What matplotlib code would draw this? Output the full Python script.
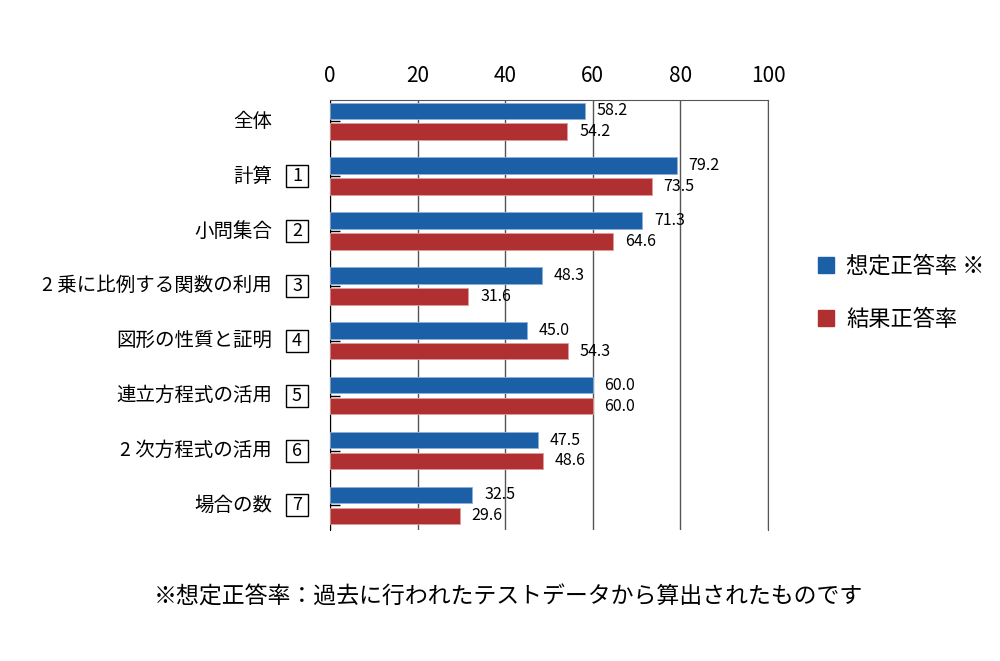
import matplotlib
matplotlib.use("Agg")
import matplotlib.pyplot as plt
import numpy as np

plt.rcParams['font.family'] = ['Noto Sans CJK JP', 'DejaVu Sans']

# data
categories = ['全体', '計算', '小問集合', '2 乗に比例する関数の利用', '図形の性質と証明',
              '連立方程式の活用', '2 次方程式の活用', '場合の数']
box_nums = ['', '1', '2', '3', '4', '5', '6', '7']
expected = [58.2, 79.2, 71.3, 48.3, 45.0, 60.0, 47.5, 32.5]
actual = [54.2, 73.5, 64.6, 31.6, 54.3, 60.0, 48.6, 29.6]
series_names = ['想定正答率 ※', '結果正答率']
xticks = [0, 20, 40, 60, 80, 100]
note = '※想定正答率：過去に行われたテストデータから算出されたものです'

blue = '#1b5fa7'
red = '#b03032'

fig = plt.figure(figsize=(10, 6.61), dpi=100)
ax = fig.add_axes([0.33, 0.198, 0.438, 0.651])

y = np.arange(len(categories))
h = 0.30
ax.barh(y - 0.19, expected, height=h, color=blue, edgecolor='#8fb0d8', linewidth=0.6, zorder=3)
ax.barh(y + 0.19, actual, height=h, color=red, edgecolor='#e09a9a', linewidth=0.6, zorder=3)

for i in range(len(categories)):
    ax.annotate(f'{expected[i]:.1f}', (expected[i], y[i] - 0.19), xytext=(8.5, 0),
                textcoords='offset points', va='center', ha='left', fontsize=11.5)
    ax.annotate(f'{actual[i]:.1f}', (actual[i], y[i] + 0.19), xytext=(8.5, 0),
                textcoords='offset points', va='center', ha='left', fontsize=11.5)

ax.set_xlim(0, 100)
ax.set_ylim(7.45, -0.39)
ax.xaxis.tick_top()
ax.set_xticks(xticks)
ax.set_xticklabels([str(t) for t in xticks], fontsize=15)
ax.tick_params(axis='x', length=0, pad=9)
ax.set_yticks(y)
ax.set_yticklabels([])
ax.tick_params(axis='y', direction='in', length=7, width=1)
ax.grid(axis='x', color='#555555', linewidth=1, zorder=1)
ax.spines['bottom'].set_visible(False)
ax.spines['top'].set_color('#555555')
ax.spines['right'].set_color('#555555')
ax.spines['left'].set_color('black')

# category labels, with the boxed question number
trans = ax.get_yaxis_transform()
for i, cat in enumerate(categories):
    ax.text(-0.132, y[i], cat, transform=trans, ha='right',
            va='center', fontsize=14, clip_on=False)
    if box_nums[i]:
        ax.add_patch(plt.Rectangle((-0.1005, y[i] - 0.2), 0.0502, 0.4, transform=trans,
                                   fc='white', ec='black', lw=1, clip_on=False))
        ax.text(-0.0753, y[i], box_nums[i], transform=trans,
                ha='center', va='center', fontsize=13, clip_on=False)

# legend
fig.patches.append(plt.Rectangle((0.818, 1 - 273 / 661), 0.016, 16 / 661,
                                 transform=fig.transFigure, color=blue))
fig.patches.append(plt.Rectangle((0.818, 1 - 326 / 661), 0.016, 16 / 661,
                                 transform=fig.transFigure, color=red))
fig.text(0.846, 1 - 266 / 661, series_names[0], va='center', ha='left', fontsize=16)
fig.text(0.846, 1 - 319 / 661, series_names[1], va='center', ha='left', fontsize=16)

fig.text(0.508, 1 - 597 / 661, note, ha='center', va='center', fontsize=16.5)

fig.savefig('out.png', dpi=100, facecolor='white')
